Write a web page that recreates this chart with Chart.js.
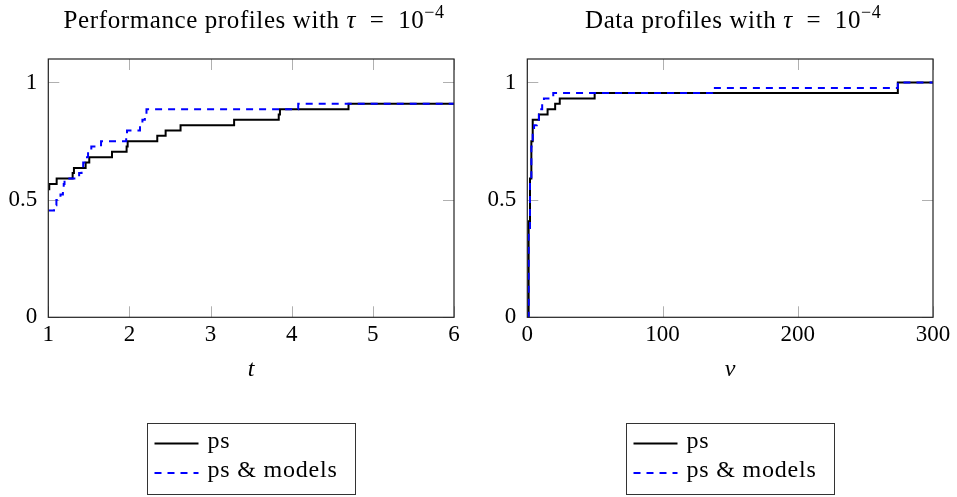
<!DOCTYPE html>
<html>
<head>
<meta charset="utf-8">
<script src="https://cdn.jsdelivr.net/npm/chart.js@4.4.1/dist/chart.umd.min.js"></script>
<style>
  html, body { margin: 0; padding: 0; background: #fff; }
  #wrap { position: relative; width: 957px; height: 497px; }
  canvas { position: absolute; top: 0; }
</style>
</head>
<body>
<div id="wrap">
  <canvas id="perf" width="478" height="497" style="left:0"></canvas>
  <canvas id="data" width="478" height="497" style="left:479px"></canvas>
</div>
<script>
// performance profiles, tau = 1e-4
const perfPsT = [1, 1.012, 1.103, 1.30, 1.316, 1.46, 1.505, 1.785, 1.965, 1.978, 2.343, 2.446, 2.63, 3.29, 3.84, 3.855, 4.70, 6];
const perfPsY = [0.545, 0.568, 0.591, 0.614, 0.636, 0.659, 0.682, 0.705, 0.727, 0.75, 0.773, 0.795, 0.818, 0.841, 0.864, 0.886, 0.909, 0.909];
const perfModT = [1, 1.07, 1.10, 1.15, 1.18, 1.19, 1.20, 1.38, 1.41, 1.43, 1.46, 1.49, 1.53, 1.65, 1.96, 1.97, 2.13, 2.16, 2.19, 2.21, 4.08, 6];
const perfModY = [0.455, 0.477, 0.5, 0.523, 0.545, 0.568, 0.591, 0.614, 0.636, 0.659, 0.682, 0.705, 0.727, 0.75, 0.773, 0.795, 0.818, 0.841, 0.864, 0.886, 0.909, 0.909];

// data profiles, tau = 1e-4
const dataPsNu = [0, 1, 2, 3, 4, 8.6, 15, 20.6, 24, 49.8, 274, 300];
const dataPsY = [0, 0.409, 0.591, 0.75, 0.841, 0.864, 0.886, 0.909, 0.932, 0.955, 1.0, 1.0];
const dataModNu = [0, 1, 2, 3, 4, 5, 7, 8.6, 9.5, 11, 12.3, 19.2, 136.7, 274, 300];
const dataModY = [0, 0.364, 0.591, 0.727, 0.795, 0.818, 0.841, 0.864, 0.886, 0.909, 0.932, 0.955, 0.977, 1.0, 1.0];

const yTicks = [0, 0.5, 1];
const perfXTicks = [1, 2, 3, 4, 5, 6];
const dataXTicks = [0, 100, 200, 300];
const seriesNames = ['ps', 'ps & models'];

const FONT = "'Liberation Serif', 'DejaVu Serif', serif";

function toPoints(xs, ys) {
  return xs.map((x, i) => ({ x: x, y: ys[i] }));
}

// pgfplots-like frame, inner tick marks, title and boxed legend
const pgfLook = {
  id: 'pgfLook',
  beforeDatasetsDraw(chart) {
    const ctx = chart.ctx, a = chart.chartArea;
    const xs = chart.scales.x, ys = chart.scales.y;
    ctx.save();
    ctx.strokeStyle = '#b0b0b0';
    ctx.lineWidth = 1;
    ctx.beginPath();
    xs.ticks.forEach(t => {
      const px = Math.round(xs.getPixelForValue(t.value)) + 0.5;
      ctx.moveTo(px, a.bottom); ctx.lineTo(px, a.bottom - 11);
      ctx.moveTo(px, a.top); ctx.lineTo(px, a.top + 11);
    });
    ys.ticks.forEach(t => {
      const py = Math.round(ys.getPixelForValue(t.value)) + 0.5;
      ctx.moveTo(a.left, py); ctx.lineTo(a.left + 11, py);
      ctx.moveTo(a.right, py); ctx.lineTo(a.right - 11, py);
    });
    ctx.stroke();
    ctx.restore();
  },
  afterDraw(chart, args, opts) {
    const ctx = chart.ctx, a = chart.chartArea;
    ctx.save();
    ctx.strokeStyle = '#222';
    ctx.lineWidth = 1.2;
    ctx.strokeRect(a.left, a.top, a.right - a.left, a.bottom - a.top);

    // title
    ctx.letterSpacing = '0.6px';
    const parts = [
      { t: opts.title + ' with ', f: '25px ' + FONT, dy: 0 },
      { t: 'τ', f: 'italic 25px ' + FONT, dy: 0 },
      { t: '  =  10', f: '25px ' + FONT, dy: 0 },
      { t: '−4', f: '18px ' + FONT, dy: -10 }
    ];
    let w = 0;
    parts.forEach(p => { ctx.font = p.f; p.w = ctx.measureText(p.t).width; w += p.w; });
    let x = (a.left + a.right) / 2 - w / 2 + 3;
    ctx.fillStyle = '#000';
    ctx.textBaseline = 'alphabetic';
    ctx.textAlign = 'left';
    parts.forEach(p => { ctx.font = p.f; ctx.fillText(p.t, x, 28 + p.dy); x += p.w; });

    // legend
    const cx = (a.left + a.right) / 2;
    const bx = Math.round(cx - 104) + 0.5, by = 423.5, bw = 208, bh = 71;
    ctx.letterSpacing = '0.8px';
    ctx.strokeStyle = '#333';
    ctx.lineWidth = 1;
    ctx.strokeRect(bx, by, bw, bh);
    chart.data.datasets.forEach((ds, i) => {
      const ly = by + 20 + i * 29.4;
      ctx.beginPath();
      ctx.strokeStyle = ds.borderColor;
      ctx.lineWidth = ds.borderWidth;
      ctx.setLineDash(ds.borderDash || []);
      ctx.moveTo(bx + 7, ly);
      ctx.lineTo(bx + 51, ly);
      ctx.stroke();
      ctx.setLineDash([]);
      ctx.font = '24px ' + FONT;
      ctx.fillStyle = '#000';
      ctx.fillText(ds.label, bx + 60, ly + 4);
    });
    ctx.restore();
  }
};

function makeChart(id, title, axisLabel, xMin, xMax, xTicks, psPts, modPts) {
  return new Chart(document.getElementById(id), {
    type: 'line',
    data: {
      datasets: [
        { label: seriesNames[0], data: psPts, borderColor: '#000', borderWidth: 2, stepped: true, pointRadius: 0, fill: false, order: 1 },
        { label: seriesNames[1], data: modPts, borderColor: '#0000ff', borderWidth: 2, borderDash: [7, 6], stepped: true, pointRadius: 0, fill: false, order: 0 }
      ]
    },
    options: {
      responsive: false,
      animation: false,
      devicePixelRatio: 1,
      layout: { padding: { top: 59, right: 24, left: 0, bottom: 0 } },
      plugins: { legend: { display: false }, tooltip: { enabled: false }, title: { display: false }, pgfLook: { title: title } },
      scales: {
        x: {
          type: 'linear', min: xMin, max: xMax,
          afterBuildTicks: s => { s.ticks = xTicks.map(v => ({ value: v })); },
          afterFit: s => { s.height = 179.7; },
          grid: { display: false, drawTicks: false },
          border: { display: false },
          ticks: { padding: 4, color: '#000', font: { family: FONT, size: 23 }, callback: v => String(v) },
          title: { display: true, text: axisLabel, color: '#000', font: { family: FONT, size: 24, style: 'italic' }, padding: { top: 0, bottom: 113 } }
        },
        y: {
          type: 'linear', min: 0, max: 1.1,
          afterBuildTicks: s => { s.ticks = yTicks.map(v => ({ value: v })); },
          afterFit: s => { s.width = 48.3; },
          grid: { display: false, drawTicks: false },
          border: { display: false },
          ticks: { padding: 11, color: '#000', font: { family: FONT, size: 23 }, callback: v => String(v) }
        }
      }
    },
    plugins: [pgfLook]
  });
}

makeChart('perf', 'Performance profiles', 't', 1, 6, perfXTicks, toPoints(perfPsT, perfPsY), toPoints(perfModT, perfModY));
makeChart('data', 'Data profiles', 'ν', 0, 300, dataXTicks, toPoints(dataPsNu, dataPsY), toPoints(dataModNu, dataModY));
</script>
</body>
</html>
